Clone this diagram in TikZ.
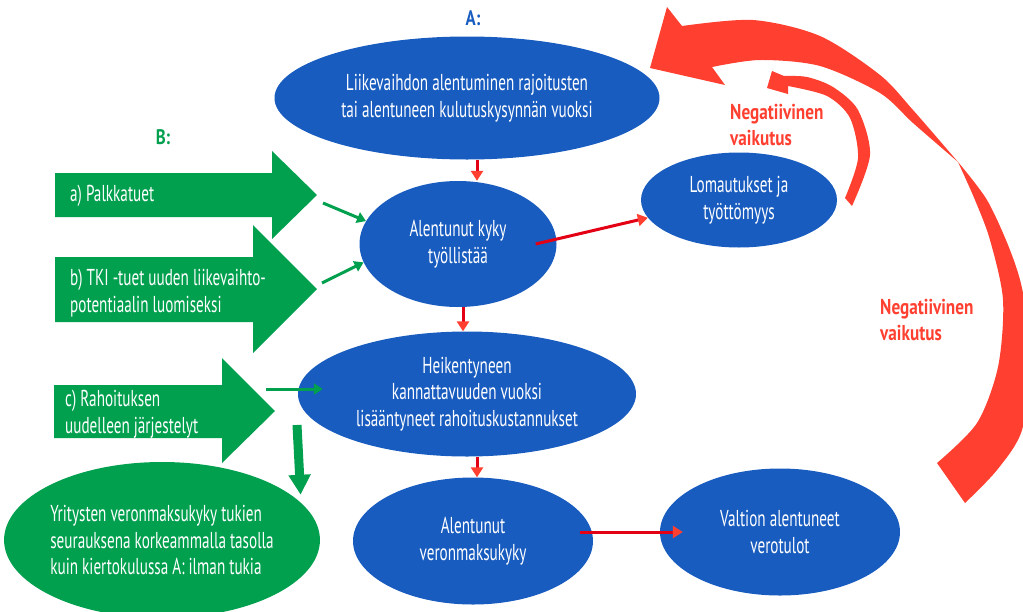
\documentclass[tikz,border=0pt]{standalone}
\usepackage{fontspec}
\setmainfont{PT Sans}[FakeStretch=0.66]
\newfontfamily\labelfont{PT Sans}[FakeStretch=0.8]
\usetikzlibrary{shapes.geometric,arrows.meta}

\definecolor{ablue}{RGB}{24,92,191}
\definecolor{bgreen}{RGB}{0,160,78}
\definecolor{negred}{RGB}{255,64,48}
\definecolor{linered}{RGB}{228,0,20}

\begin{document}
\begin{tikzpicture}[x = 1pt, y = -1pt,
                    font = \fontsize{23}{26.5}\selectfont,
                    bluebox/.style = {ellipse, fill = ablue, text = white, align = center, inner sep = 0pt},
                    greenbox/.style = {ellipse, fill = bgreen, text = white, align = left, inner sep = 0pt},
                    blocktext/.style = {anchor = west, text = white, align = left, inner sep = 0pt},
                    title/.style = {font = \labelfont\fontsize{21}{24}\selectfont\bfseries},
                    negtext/.style = {anchor = west, align = left, inner sep = 0pt, text = negred,
                                      font = \labelfont\fontsize{21.5}{25.5}\selectfont\bfseries},
                    redarrow/.style = {draw = linered, line width = 3pt, -{Triangle[length = 10pt, width = 12pt, color = negred]}},
                    greenarrow/.style = {draw = bgreen, line width = 3pt, -{Triangle[length = 9pt, width = 11pt]}}]

\useasboundingbox (0,0) rectangle (1023,611);

\node (labA) at (473,18)[title, text = ablue]{A:};
\node (labB) at (163,137)[title, text = bgreen]{B:};

% circle A
\node [bluebox, minimum width = 385pt, minimum height = 123pt] (liike) at (467,98)
  {Liikevaihdon alentuminen rajoitusten\\tai alentuneen kulutuskysynnän vuoksi};
\node [bluebox, minimum width = 197pt, minimum height = 126pt] (tyo) at (458,244)
  {Alentunut kyky\\työllistää};
\node [bluebox, minimum width = 196pt, minimum height = 95pt] (loma) at (739,200)
  {Lomautukset ja\\työttömyys};
\node [bluebox, minimum width = 338pt, minimum height = 125pt] (heik) at (467,394)
  {Heikentyneen\\kannattavuuden vuoksi\\lisääntyneet rahoituskustannukset};
\node [bluebox, minimum width = 240pt, minimum height = 127pt] (verom) at (473,541)
  {Alentunut\\veronmaksukyky};
\node [bluebox, minimum width = 240pt, minimum height = 127pt] (valtio) at (780,532)
  {Valtion alentuneet\\verotulot};

% B: supports
\fill[bgreen] (55,173) -- (272,173) -- (272,151) -- (317,195) -- (272,239) -- (272,217) -- (55,217) -- cycle;
\fill[bgreen] (55,257) -- (253,257) -- (253,225) -- (317,289) -- (253,353) -- (253,322) -- (55,322) -- cycle;
\fill[bgreen] (54,385) -- (222,385) -- (222,358) -- (275,411) -- (222,463) -- (222,438) -- (54,438) -- cycle;
\node [blocktext] (palkka) at (70,196) {a) Palkkatuet};
\node [blocktext] (tki) at (70,293) {b) TKI -tuet uuden liikevaihto-\\potentiaalin luomiseksi};
\node [blocktext] (rahoit) at (65,414) {c) Rahoituksen\\uudelleen järjestelyt};
\node [greenbox, minimum width = 304pt, minimum height = 156pt] (yrit) at (162,540)
  {Yritysten veronmaksukyky tukien\\seurauksena korkeammalla tasolla\\kuin kiertokulussa A: ilman tukia};

\coordinate (ga) at (323,203);
\coordinate (gb) at (322,283);
\coordinate (gc) at (266,389);
\coordinate (gd) at (297,425);

\draw[greenarrow] (ga) -- (tyo.166);
\draw[greenarrow] (gb) -- (tyo.191);
\draw[greenarrow] (gc) -- ([xshift = 25pt]gc -| heik.west);
\draw[bgreen, line width = 9pt, -{Triangle[length = 20pt, width = 21pt]}, shorten > = 8pt] (gd) -- (yrit.15);

% red steps
\draw[redarrow] ([xshift = 10pt]liike.south) -- ([xshift = 19pt]tyo.north);
\draw[redarrow] ([xshift = -21pt]tyo.east) -- (loma.191);
\draw[redarrow] ([xshift = 5pt]tyo.south) -- ([xshift = 5pt]tyo.south |- heik.north);
\draw[redarrow] ([xshift = 10pt]heik.south) -- ([xshift = 10pt]heik.south |- verom.north);
\draw[redarrow] ([shift = {(-13,-9)}]verom.east) -- ([xshift = 23pt]valtio.west);

% negative feedback
\fill[negred] (767,88) -- (772,71) -- (784,76)
  -- plot[smooth] coordinates {(784,76) (807,77) (833,87) (858,110) (870,155) (852,206)}
  -- (845,198)
  -- plot[smooth] coordinates {(845,198) (858,158) (850,118) (827,96) (788,86)}
  -- (788,94) -- cycle;
\fill[negred] (650,68) -- (667,7) -- (682,26)
  -- plot[smooth] coordinates {(682,26) (753,20) (820,36) (880,75) (913,110) (958,162)}
  -- plot[smooth] coordinates {(958,162) (987,200) (1010,250) (1023,293) (1030,360) (1022,430) (997,470) (965,503)}
  -- (937,463)
  -- plot[smooth] coordinates {(937,463) (977,423) (998,367) (1003,300) (990,240) (975,200) (958,162)}
  -- plot[smooth] coordinates {(958,162) (913,123) (880,93) (820,66) (760,60) (712,67)}
  -- (725,85) -- cycle;

\node [negtext] (neg1) at (730,125) {Negatiivinen\\vaikutus};
\node [negtext] (neg2) at (880,320) {Negatiivinen\\vaikutus};
\end{tikzpicture}
\end{document}
